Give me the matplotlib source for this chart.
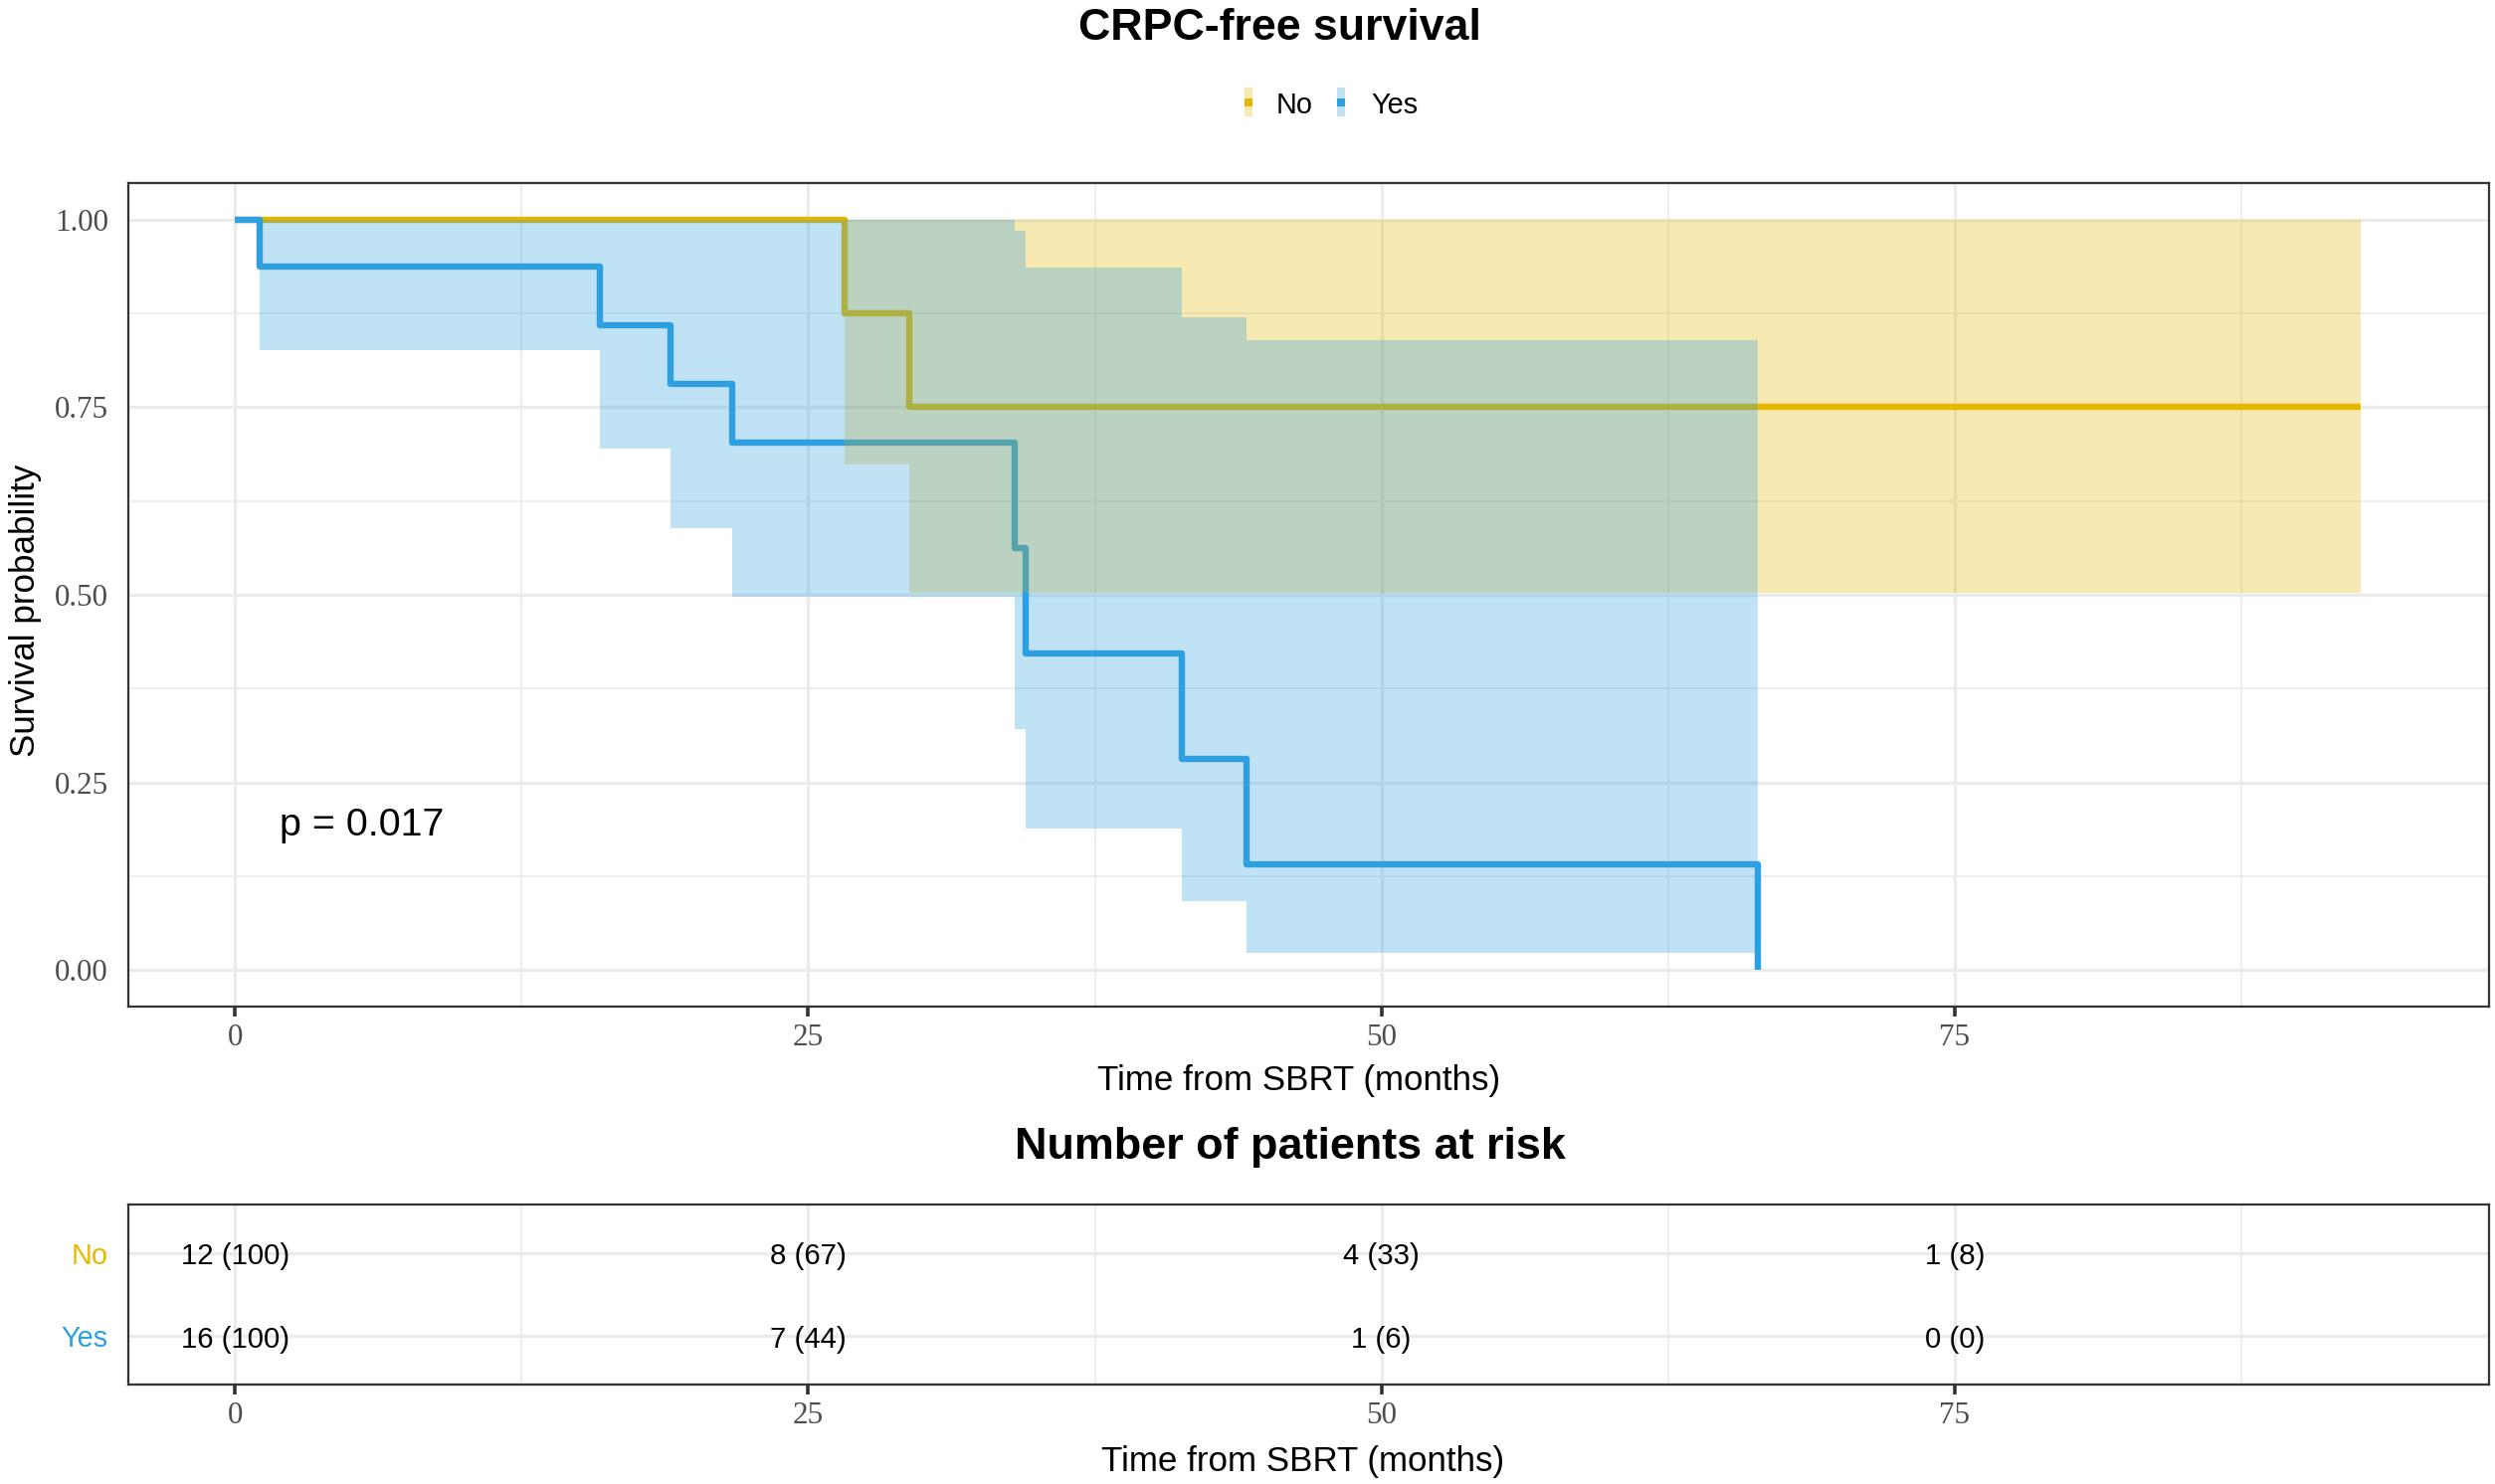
import matplotlib
matplotlib.use('Agg')
import matplotlib.pyplot as plt
import matplotlib.patches as mpatches

# groups
group_names = ['No', 'Yes']
group_colors = ['#E7B800', '#2E9FDF']

# Kaplan-Meier steps (months)
no_time = [0, 26.6, 29.4, 92.7]
no_surv = [1.0, 0.875, 0.75, 0.75]
no_ci_time = [26.6, 29.4, 92.7]
no_ci_low = [0.674, 0.502, 0.502]
no_ci_high = [1.0, 1.0, 1.0]

yes_time = [0, 1.09, 15.9, 19.0, 21.7, 34.0, 34.5, 41.3, 44.1, 66.4]
yes_surv = [1.0, 0.9375, 0.859, 0.781, 0.703, 0.5625, 0.422, 0.281, 0.141, 0.0]
yes_ci_time = [1.09, 15.9, 19.0, 21.7, 34.0, 34.5, 41.3, 44.1, 66.4]
yes_ci_low = [0.826, 0.695, 0.589, 0.497, 0.321, 0.189, 0.091, 0.022, 0.022]
yes_ci_high = [1.0, 1.0, 1.0, 1.0, 0.986, 0.936, 0.870, 0.840, 0.840]

# risk table
risk_times = [0, 25, 50, 75]
risk_no_n = [12, 8, 4, 1]
risk_no_pct = [100, 67, 33, 8]
risk_yes_n = [16, 7, 1, 0]
risk_yes_pct = [100, 44, 6, 0]

p_text = 'p = 0.017'
y_ticks = [0.0, 0.25, 0.5, 0.75, 1.0]
x_minor = [12.5, 37.5, 62.5, 87.5]
y_minor = [0.125, 0.375, 0.625, 0.875]

W, H = 2508, 1492
SANS = 'Liberation Sans'
SERIF = 'Liberation Serif'
TICK_GREY = '#4D4D4D'


def fx(px):
    return px / W


def fy(py):
    return 1 - py / H


def style_axes(ax):
    ax.set_xlim(-4.65, 98.3)
    ax.set_xticks(risk_times, labels=[str(t) for t in risk_times],
                  family=SERIF, color=TICK_GREY, fontsize=11.2)
    ax.set_xticks(x_minor, minor=True)
    ax.grid(which='major', color='#EBEBEB', linewidth=1.2)
    ax.grid(which='minor', color='#EBEBEB', linewidth=0.6)
    ax.set_axisbelow(True)
    for sp in ax.spines.values():
        sp.set_color('#333333')
        sp.set_linewidth(0.8)
    ax.tick_params(axis='x', which='major', length=3.6, width=1.3,
                   color='#333333', pad=2.6)
    ax.tick_params(which='minor', length=0)
    ax.tick_params(axis='y', which='major', length=0, pad=7.2)


def main():
    fig = plt.figure(figsize=(W / 200, H / 200), dpi=200, facecolor='white')

    # survival panel
    ax = fig.add_axes([fx(129), fy(1012), fx(2502) - fx(129), (1012 - 184) / H])
    style_axes(ax)
    ax.set_ylim(-0.049, 1.049)
    ax.set_yticks(y_ticks, labels=[f'{v:.2f}' for v in y_ticks],
                  family=SERIF, color=TICK_GREY, fontsize=11.2)
    ax.set_yticks(y_minor, minor=True)

    curves = [(no_time, no_surv), (yes_time, yes_surv)]
    bands = [(no_ci_time, no_ci_low, no_ci_high),
             (yes_ci_time, yes_ci_low, yes_ci_high)]
    for (t, s), col in zip(curves, group_colors):
        ax.step(t, s, where='post', color=col, linewidth=2.3,
                solid_joinstyle='round', solid_capstyle='butt', zorder=2)
    for (t, lo, hi), col in zip(bands, group_colors):
        ax.fill_between(t, lo, hi, step='post', color=col, alpha=0.3,
                        linewidth=0, zorder=3)

    ax.text(1.95, 0.179, p_text, ha='left', va='baseline', fontsize=14.2,
            family=SANS, color='black', zorder=4)

    # risk table panel
    ax2 = fig.add_axes([fx(129), fy(1392), fx(2502) - fx(129), (1392 - 1211) / H])
    style_axes(ax2)
    ax2.set_ylim(0.42, 2.58)
    ax2.set_yticks([2, 1], labels=group_names, family=SANS, fontsize=10.4)
    for lab, col in zip(ax2.get_yticklabels(), group_colors):
        lab.set_color(col)
    rows = [(2, risk_no_n, risk_no_pct), (1, risk_yes_n, risk_yes_pct)]
    for yy, counts, pcts in rows:
        for t, n, p in zip(risk_times, counts, pcts):
            ax2.text(t, yy - 0.135, f'{n} ({p})', ha='center', va='baseline',
                     fontsize=10.6, family=SANS, color='black')

    # titles and labels
    fig.text(fx(1286), fy(40), 'CRPC-free survival', ha='center', va='baseline',
             fontsize=16.1, fontweight='bold', family=SANS)
    fig.text(fx(1306), fy(1096), 'Time from SBRT (months)', ha='center',
             va='baseline', fontsize=12.6, family=SANS)
    fig.text(fx(35), fy(614), 'Survival probability', rotation=90,
             rotation_mode='anchor', ha='center', va='baseline',
             fontsize=12.6, family=SANS)
    fig.text(fx(1297), fy(1165), 'Number of patients at risk', ha='center',
             va='baseline', fontsize=16.2, fontweight='bold', family=SANS)
    fig.text(fx(1310), fy(1479), 'Time from SBRT (months)', ha='center',
             va='baseline', fontsize=12.6, family=SANS)

    # legend keys
    key_x = [1250.7, 1344.0]
    text_x = [1282.7, 1378.3]
    for name, col, kx, tx in zip(group_names, group_colors, key_x, text_x):
        fig.add_artist(mpatches.Rectangle((fx(kx), fy(116.7)), 8.3 / W, 28.4 / H,
                                          transform=fig.transFigure,
                                          facecolor=col, alpha=0.3, linewidth=0))
        fig.add_artist(mpatches.Rectangle((fx(kx), fy(106.7)), 8.3 / W, 7.4 / H,
                                          transform=fig.transFigure,
                                          facecolor=col, linewidth=0))
        fig.text(fx(tx), fy(114), name, ha='left', va='baseline',
                 fontsize=10.4, family=SANS)

    fig.savefig('out.png', dpi=200, facecolor='white')
    plt.close(fig)


if __name__ == '__main__':
    main()
